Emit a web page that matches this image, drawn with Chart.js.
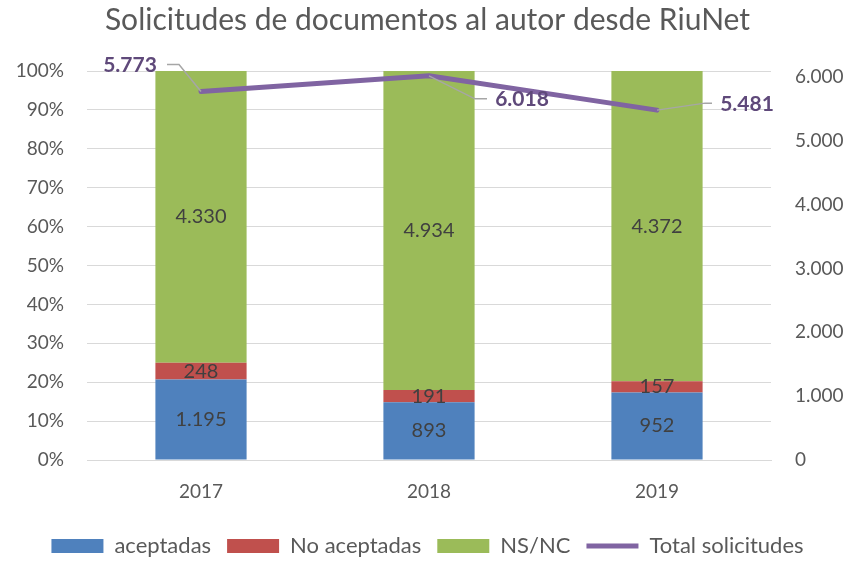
<!DOCTYPE html>
<html lang="es">
<head>
<meta charset="UTF-8" />
<title>Solicitudes de documentos al autor desde RiuNet</title>
<style>
  body { margin: 0; background: #fff; }
  #wrap { width: 855px; height: 561px; position: relative; }
</style>
</head>
<body>
<div id="wrap"><canvas id="chart" width="855" height="561"></canvas></div>
<script src="https://cdn.jsdelivr.net/npm/chart.js"></script>
<script>
const years = ["2017", "2018", "2019"]
const aceptadas = [1195, 893, 952]
const noAceptadas = [248, 191, 157]
const nsnc = [4330, 4934, 4372]
const totalSolicitudes = [5773, 6018, 5481]
const rightTicks = [0, 1000, 2000, 3000, 4000, 5000, 6000]

const FONT = "Lato, 'Open Sans', sans-serif"
const fmt = (v) => String(v).replace(/\B(?=(\d{3})+(?!\d))/g, ".")
const pct = (arr) => arr.map((v, i) => (v / totalSolicitudes[i]) * 100)

// offsets of the line labels relative to their point (text center, leader bend)
const lineLabelPos = [
    { tx: -71, ty: -26, bx: -22, by: -27, ex: -34 },
    { tx: 93, ty: 23, bx: 46, by: 23, ex: 58 },
    { tx: 90, ty: -6, bx: 48, by: -7, ex: 55 },
]

const labelsPlugin = {
    id: "labels",
    afterDatasetsDraw(chart) {
        const ctx = chart.ctx
        ctx.save()
        ctx.textAlign = "center"
        ctx.textBaseline = "middle"
        ctx.font = "20px " + FONT
        ctx.fillStyle = "#404040"
        for (let d = 0; d < 3; d++) {
            const meta = chart.getDatasetMeta(d)
            const raw = chart.data.datasets[d].counts
            meta.data.forEach((bar, i) => {
                const y = (bar.y + bar.base) / 2
                ctx.fillText(fmt(raw[i]), bar.x, y)
            })
        }
        const lm = chart.getDatasetMeta(3)
        ctx.font = "bold 21px " + FONT
        lm.data.forEach((pt, i) => {
            const p = lineLabelPos[i]
            ctx.strokeStyle = "#A6A6A6"
            ctx.lineWidth = 1.5
            ctx.beginPath()
            ctx.moveTo(pt.x, pt.y)
            ctx.lineTo(pt.x + p.bx, pt.y + p.by)
            ctx.lineTo(pt.x + p.ex, pt.y + p.by)
            ctx.stroke()
            ctx.fillStyle = "#5F497A"
            ctx.fillText(fmt(totalSolicitudes[i]), pt.x + p.tx, pt.y + p.ty)
        })
        ctx.restore()
    },
}

new Chart(document.getElementById("chart"), {
    data: {
        labels: years,
        datasets: [
            { type: "bar", label: "aceptadas", data: pct(aceptadas), counts: aceptadas, backgroundColor: "#4F81BD", yAxisID: "y", order: 2 },
            { type: "bar", label: "No aceptadas", data: pct(noAceptadas), counts: noAceptadas, backgroundColor: "#C0504D", yAxisID: "y", order: 2 },
            { type: "bar", label: "NS/NC", data: pct(nsnc), counts: nsnc, backgroundColor: "#9BBB59", yAxisID: "y", order: 2 },
            {
                type: "line", label: "Total solicitudes", data: totalSolicitudes,
                borderColor: "#8064A2", backgroundColor: "#8064A2", borderWidth: 5,
                borderCapStyle: "round", pointRadius: 0, yAxisID: "y1", order: 1,
            },
        ],
    },
    options: {
        responsive: false,
        animation: false,
        layout: { padding: { left: 0, right: 0, top: 0, bottom: -6 } },
        datasets: { bar: { categoryPercentage: 1, barPercentage: 0.4 } },
        plugins: {
            title: {
                display: true,
                text: "Solicitudes de documentos al autor desde RiuNet",
                color: "#595959",
                font: { family: FONT, size: 30, weight: "normal" },
                padding: { top: 2, bottom: 33 },
            },
            legend: {
                position: "bottom",
                labels: {
                    color: "#595959",
                    font: { family: FONT, size: 22 },
                    usePointStyle: true,
                    pointStyleWidth: 52,
                    boxHeight: 14,
                    padding: 16,
                    generateLabels(chart) {
                        const items = Chart.defaults.plugins.legend.labels.generateLabels(chart)
                        items.sort((a, b) => a.datasetIndex - b.datasetIndex)
                        items.forEach((it) => {
                            const isLine = it.datasetIndex === 3
                            it.pointStyle = isLine ? "line" : "rect"
                            if (!isLine) it.lineWidth = 0
                        })
                        return items
                    },
                },
            },
            tooltip: { enabled: false },
        },
        scales: {
            x: {
                stacked: true,
                grid: { display: false },
                border: { color: "#D9D9D9" },
                ticks: { color: "#595959", font: { family: FONT, size: 19 }, padding: 12, maxRotation: 0 },
                afterFit(s) { s.height = 59 },
            },
            y: {
                stacked: true,
                min: 0, max: 100,
                ticks: { stepSize: 10, color: "#595959", font: { family: FONT, size: 19 }, padding: 23, callback: (v) => v + "%" },
                grid: { color: "#D9D9D9", drawTicks: false },
                border: { display: false },
                afterFit(s) { s.width = 87 },
            },
            y1: {
                position: "right",
                min: 0, max: 6094,
                ticks: { color: "#595959", font: { family: FONT, size: 19 }, padding: 24, callback: (v) => fmt(v) },
                afterBuildTicks(s) { s.ticks = rightTicks.map((v) => ({ value: v })) },
                grid: { display: false, drawTicks: false },
                border: { display: false },
                afterFit(s) { s.width = 84 },
            },
        },
    },
    plugins: [labelsPlugin],
})
</script>
</body>
</html>
